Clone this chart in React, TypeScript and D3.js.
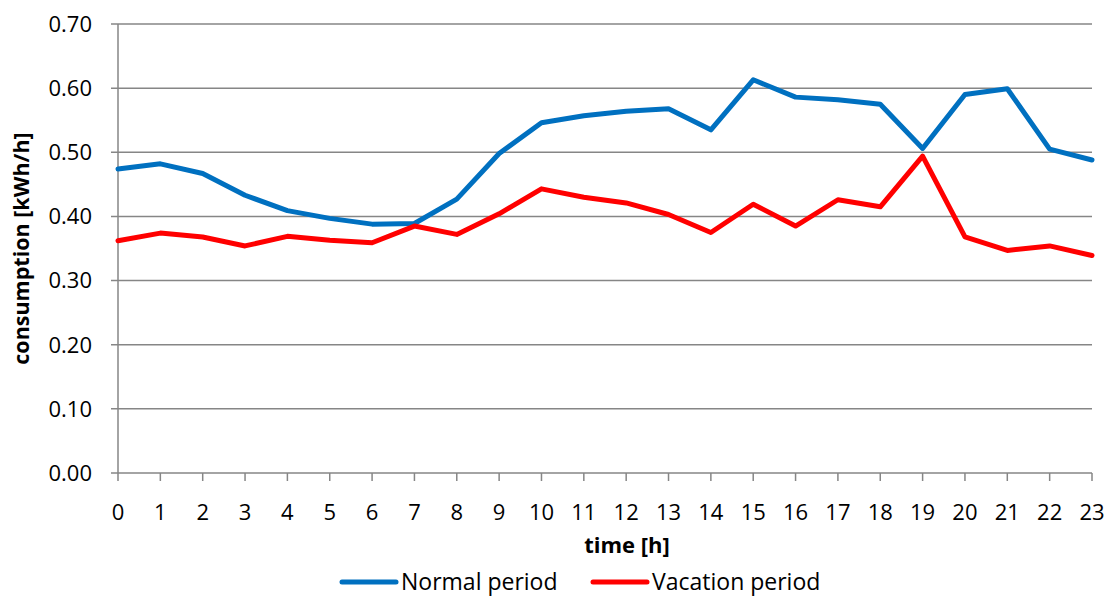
import React from "react";
import * as d3 from "d3";

const hours = d3.range(0, 24);
const normalPeriod = [0.474, 0.482, 0.467, 0.433, 0.409, 0.397, 0.388, 0.389, 0.427, 0.498, 0.546, 0.557, 0.564, 0.568, 0.535, 0.613, 0.586, 0.582, 0.575, 0.506, 0.590, 0.599, 0.505, 0.488];
const vacationPeriod = [0.362, 0.374, 0.368, 0.354, 0.369, 0.363, 0.359, 0.385, 0.372, 0.404, 0.443, 0.430, 0.421, 0.403, 0.375, 0.419, 0.385, 0.426, 0.415, 0.494, 0.368, 0.347, 0.354, 0.339];
const yTicks = [0, 0.1, 0.2, 0.3, 0.4, 0.5, 0.6, 0.7];
const seriesNames = ["Normal period", "Vacation period"];
const seriesColors = ["#0070C0", "#FF0000"];

const W = 1108, H = 597;
const left = 118, right = 1092, top = 24, bottom = 473;
const FONT = "'Open Sans', sans-serif";

export default function App() {
  const x = d3.scaleLinear().domain([0, 23]).range([left, right]);
  const y = d3.scaleLinear().domain([0, 0.7]).range([bottom, top]);
  const line = d3.line<number>().x((_, i) => x(hours[i])).y((d) => y(d));
  const series = [normalPeriod, vacationPeriod];
  const legendX = [342, 593];
  return (
    <svg width={W} height={H} style={{ position: "absolute", left: 0, top: 0, background: "#fff" }} fontFamily={FONT}>
      {yTicks.map((t) => (
        <g key={t}>
          <line x1={left - 7} x2={right} y1={y(t)} y2={y(t)} stroke="#868686" strokeWidth={1.5} />
          <text x={92} y={y(t)} dy="0.36em" textAnchor="end" fontSize={22} fill="#000">{t.toFixed(2)}</text>
        </g>
      ))}
      <line x1={left} x2={left} y1={top} y2={bottom} stroke="#868686" strokeWidth={1.5} />
      {hours.map((h) => (
        <g key={h}>
          <line x1={x(h)} x2={x(h)} y1={bottom} y2={bottom + 8} stroke="#868686" strokeWidth={1.5} />
          <text x={x(h)} y={520} textAnchor="middle" fontSize={22} fill="#000">{h}</text>
        </g>
      ))}
      {series.map((s, i) => (
        <path key={i} d={line(s) || ""} fill="none" stroke={seriesColors[i]} strokeWidth={5} strokeLinejoin="round" strokeLinecap="round" />
      ))}
      <text x={627} y={553} textAnchor="middle" fontSize={22} fontWeight="bold">time [h]</text>
      <text transform={`translate(29, ${(top + bottom) / 2}) rotate(-90)`} textAnchor="middle" fontSize={21.5} fontWeight="bold">consumption [kWh/h]</text>
      {seriesNames.map((n, i) => (
        <g key={n}>
          <line x1={legendX[i]} x2={legendX[i] + 54} y1={582} y2={582} stroke={seriesColors[i]} strokeWidth={5} strokeLinecap="round" />
          <text x={legendX[i] + 59} y={590} fontSize={23}>{n}</text>
        </g>
      ))}
    </svg>
  );
}
